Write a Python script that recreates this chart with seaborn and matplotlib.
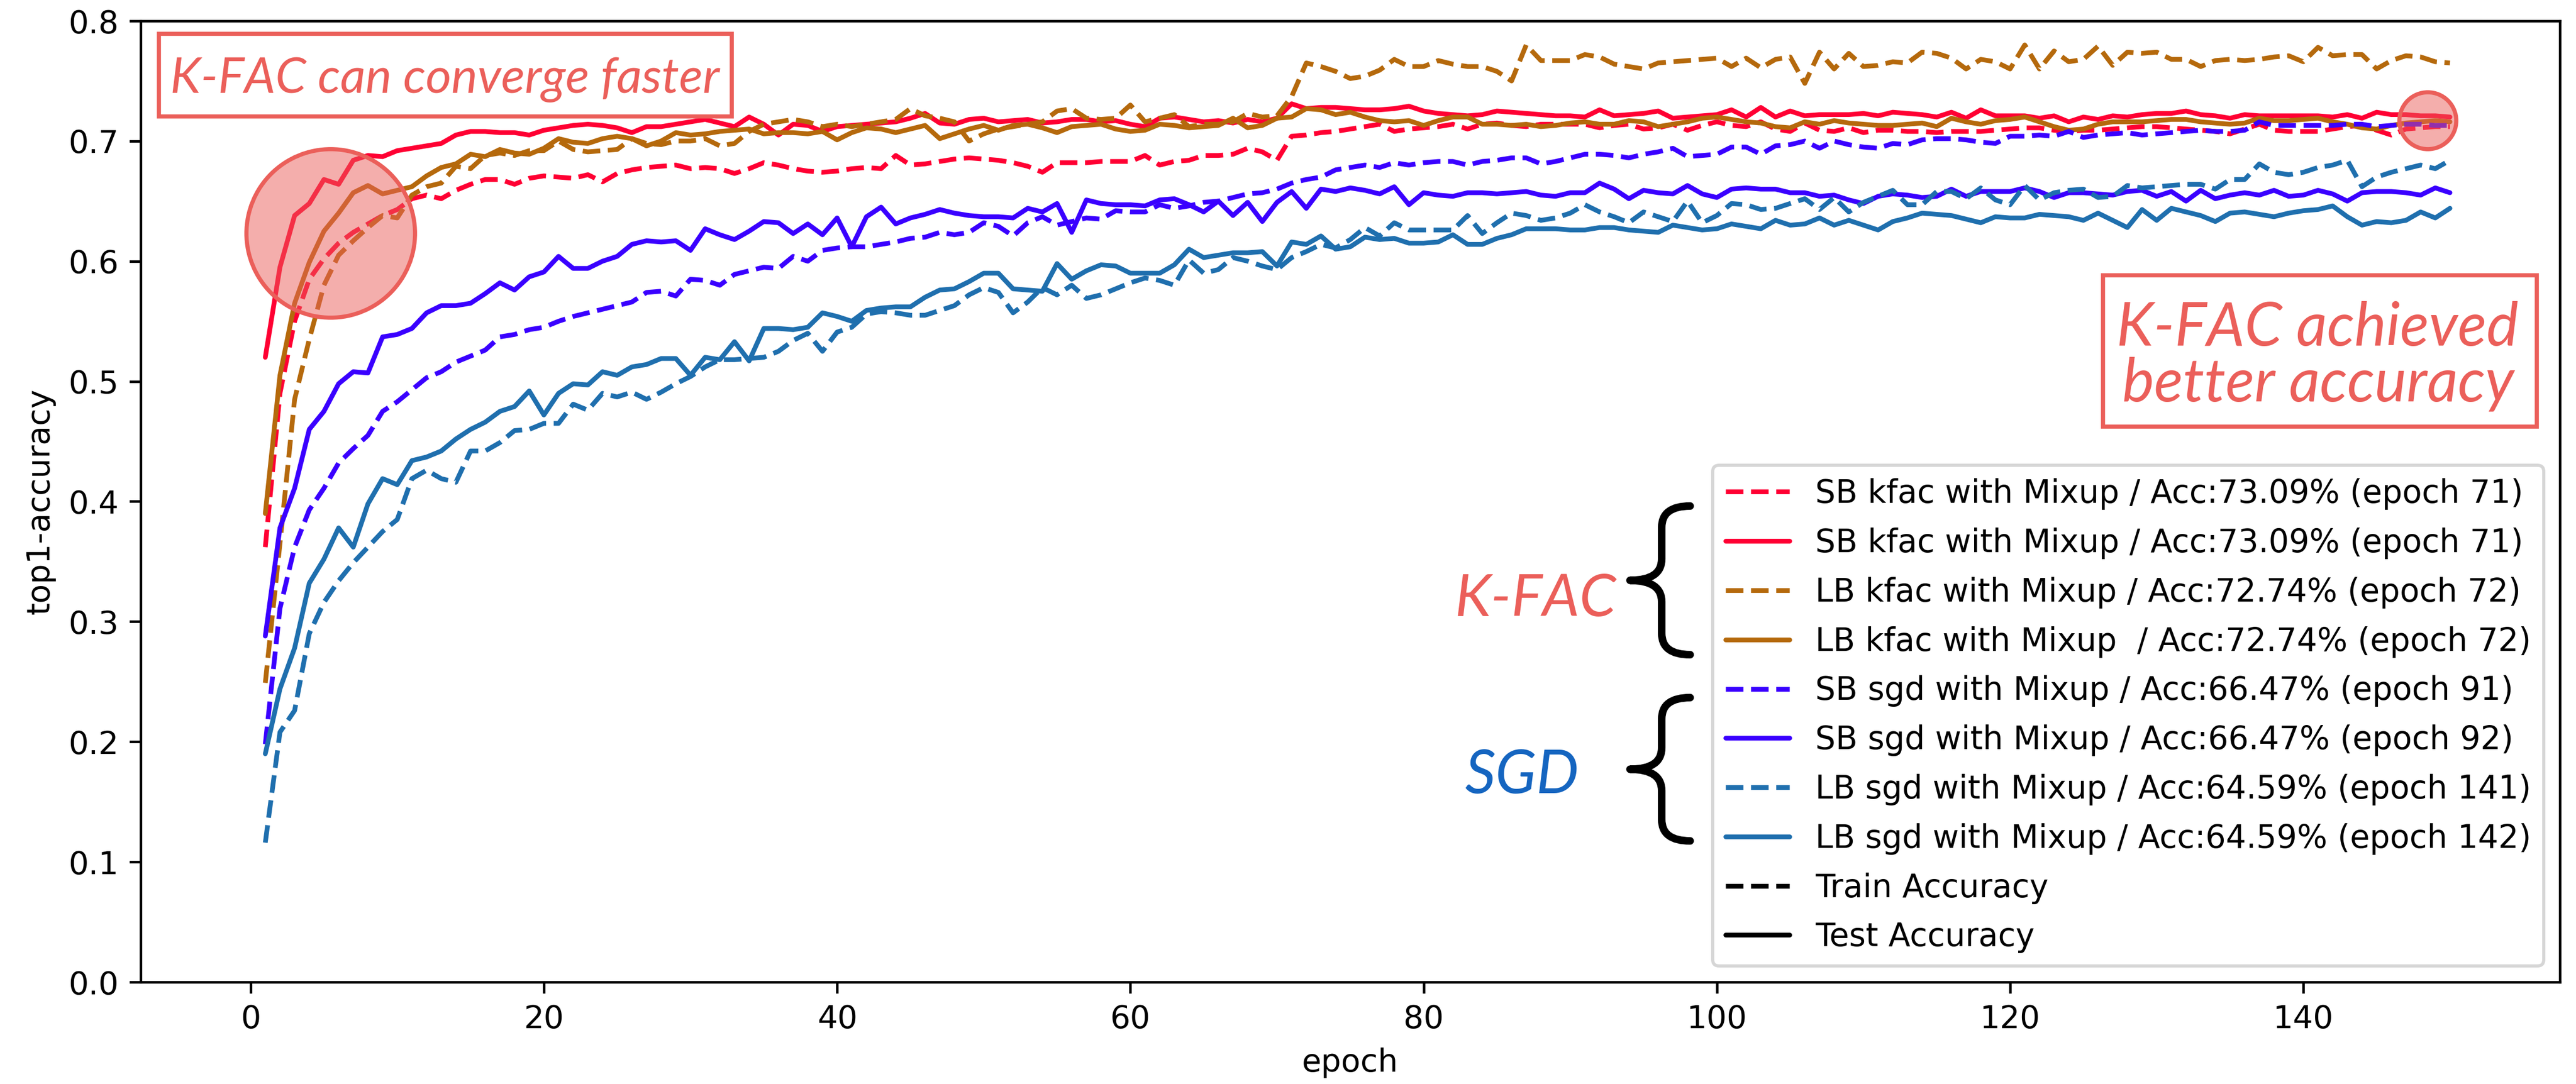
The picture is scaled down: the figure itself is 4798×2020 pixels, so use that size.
import numpy as np
import matplotlib
matplotlib.use("Agg")
import matplotlib.pyplot as plt
import seaborn as sns
from matplotlib.lines import Line2D
from matplotlib.patches import Rectangle, Ellipse, PathPatch
from matplotlib.path import Path
from matplotlib.ticker import FormatStrFormatter

# ---------------- data (top1 accuracy per epoch, epochs 1..150) ----------------
sb_kfac_train = [
    0.362, 0.490, 0.550, 0.585, 0.602, 0.615, 0.624, 0.631, 0.638, 0.643,
    0.652, 0.655, 0.652, 0.659, 0.664, 0.668, 0.668, 0.664, 0.669, 0.671,
    0.670, 0.669, 0.672, 0.666, 0.673, 0.676, 0.678, 0.679, 0.680, 0.677,
    0.678, 0.677, 0.673, 0.677, 0.682, 0.680, 0.677, 0.675, 0.674, 0.675,
    0.677, 0.678, 0.677, 0.688, 0.680, 0.681, 0.683, 0.685, 0.686, 0.685,
    0.684, 0.682, 0.679, 0.674, 0.682, 0.682, 0.682, 0.683, 0.683, 0.683,
    0.688, 0.680, 0.683, 0.684, 0.688, 0.688, 0.689, 0.694, 0.691, 0.684,
    0.704, 0.705, 0.707, 0.708, 0.710, 0.712, 0.714, 0.708, 0.710, 0.711,
    0.712, 0.714, 0.710, 0.714, 0.715, 0.713, 0.712, 0.714, 0.714, 0.714,
    0.714, 0.711, 0.713, 0.714, 0.710, 0.711, 0.714, 0.709, 0.713, 0.716,
    0.713, 0.712, 0.716, 0.710, 0.708, 0.715, 0.709, 0.708, 0.711, 0.707,
    0.709, 0.709, 0.708, 0.708, 0.707, 0.708, 0.708, 0.708, 0.709, 0.710,
    0.711, 0.711, 0.709, 0.708, 0.709, 0.709, 0.710, 0.711, 0.712, 0.712,
    0.711, 0.710, 0.709, 0.708, 0.706, 0.710, 0.714, 0.709, 0.708, 0.708,
    0.708, 0.710, 0.712, 0.713, 0.709, 0.705, 0.710, 0.711, 0.712, 0.712,
]
sb_kfac_test = [
    0.520, 0.595, 0.638, 0.648, 0.668, 0.664, 0.684, 0.688, 0.687, 0.692,
    0.694, 0.696, 0.698, 0.705, 0.708, 0.708, 0.707, 0.707, 0.705, 0.709,
    0.711, 0.713, 0.714, 0.713, 0.711, 0.707, 0.712, 0.712, 0.714, 0.716,
    0.718, 0.715, 0.712, 0.720, 0.714, 0.705, 0.714, 0.713, 0.708, 0.712,
    0.713, 0.714, 0.715, 0.716, 0.719, 0.723, 0.715, 0.714, 0.718, 0.719,
    0.716, 0.717, 0.718, 0.715, 0.716, 0.718, 0.718, 0.716, 0.717, 0.714,
    0.712, 0.719, 0.720, 0.718, 0.716, 0.717, 0.715, 0.718, 0.716, 0.719,
    0.731, 0.727, 0.728, 0.728, 0.727, 0.726, 0.726, 0.727, 0.729, 0.725,
    0.723, 0.722, 0.721, 0.722, 0.725, 0.724, 0.723, 0.722, 0.721, 0.721,
    0.720, 0.726, 0.721, 0.722, 0.723, 0.725, 0.719, 0.720, 0.721, 0.722,
    0.726, 0.720, 0.728, 0.720, 0.725, 0.721, 0.722, 0.722, 0.722, 0.723,
    0.721, 0.724, 0.723, 0.722, 0.720, 0.724, 0.719, 0.726, 0.721, 0.721,
    0.721, 0.719, 0.721, 0.716, 0.720, 0.718, 0.721, 0.720, 0.722, 0.723,
    0.723, 0.725, 0.722, 0.721, 0.719, 0.722, 0.721, 0.721, 0.721, 0.721,
    0.721, 0.720, 0.722, 0.719, 0.724, 0.722, 0.722, 0.721, 0.721, 0.720,
]
lb_kfac_train = [
    0.249, 0.365, 0.485, 0.535, 0.580, 0.605, 0.617, 0.628, 0.638, 0.636,
    0.655, 0.662, 0.665, 0.679, 0.677, 0.688, 0.690, 0.688, 0.692, 0.692,
    0.700, 0.693, 0.691, 0.692, 0.693, 0.702, 0.698, 0.697, 0.700, 0.700,
    0.702, 0.696, 0.698, 0.708, 0.714, 0.716, 0.718, 0.716, 0.712, 0.714,
    0.712, 0.714, 0.716, 0.718, 0.727, 0.721, 0.719, 0.716, 0.700, 0.706,
    0.710, 0.712, 0.714, 0.716, 0.725, 0.727, 0.719, 0.718, 0.719, 0.730,
    0.716, 0.719, 0.722, 0.712, 0.714, 0.714, 0.716, 0.723, 0.720, 0.721,
    0.737, 0.765, 0.762, 0.758, 0.752, 0.754, 0.759, 0.768, 0.762, 0.762,
    0.767, 0.764, 0.762, 0.762, 0.758, 0.750, 0.780, 0.767, 0.767, 0.767,
    0.772, 0.770, 0.764, 0.762, 0.760, 0.765, 0.766, 0.767, 0.768, 0.769,
    0.762, 0.769, 0.761, 0.768, 0.770, 0.748, 0.774, 0.760, 0.773, 0.762,
    0.763, 0.766, 0.765, 0.774, 0.773, 0.769, 0.760, 0.768, 0.766, 0.760,
    0.780, 0.760, 0.775, 0.766, 0.768, 0.779, 0.763, 0.774, 0.773, 0.774,
    0.768, 0.768, 0.762, 0.767, 0.768, 0.767, 0.768, 0.770, 0.771, 0.766,
    0.778, 0.771, 0.772, 0.772, 0.760, 0.767, 0.771, 0.770, 0.766, 0.765,
]
lb_kfac_test = [
    0.390, 0.505, 0.565, 0.599, 0.625, 0.640, 0.657, 0.663, 0.656, 0.659,
    0.662, 0.671, 0.678, 0.681, 0.689, 0.687, 0.693, 0.690, 0.689, 0.694,
    0.702, 0.699, 0.698, 0.702, 0.704, 0.702, 0.696, 0.700, 0.707, 0.705,
    0.706, 0.708, 0.709, 0.710, 0.706, 0.707, 0.707, 0.706, 0.708, 0.701,
    0.707, 0.711, 0.710, 0.707, 0.710, 0.713, 0.702, 0.706, 0.710, 0.713,
    0.709, 0.713, 0.714, 0.711, 0.707, 0.712, 0.713, 0.714, 0.710, 0.708,
    0.709, 0.714, 0.713, 0.711, 0.712, 0.713, 0.719, 0.711, 0.713, 0.719,
    0.720, 0.727, 0.726, 0.722, 0.724, 0.720, 0.717, 0.716, 0.717, 0.713,
    0.717, 0.720, 0.720, 0.714, 0.714, 0.713, 0.714, 0.712, 0.713, 0.715,
    0.716, 0.714, 0.714, 0.717, 0.716, 0.712, 0.714, 0.716, 0.719, 0.720,
    0.718, 0.716, 0.715, 0.712, 0.711, 0.716, 0.714, 0.717, 0.715, 0.714,
    0.713, 0.713, 0.714, 0.715, 0.712, 0.719, 0.716, 0.714, 0.717, 0.718,
    0.720, 0.716, 0.712, 0.709, 0.710, 0.714, 0.716, 0.716, 0.716, 0.717,
    0.718, 0.718, 0.716, 0.715, 0.714, 0.715, 0.719, 0.717, 0.717, 0.718,
    0.719, 0.716, 0.714, 0.711, 0.710, 0.713, 0.715, 0.716, 0.717, 0.716,
]
sb_sgd_train = [
    0.198, 0.311, 0.362, 0.393, 0.411, 0.432, 0.444, 0.455, 0.475, 0.483,
    0.493, 0.503, 0.508, 0.516, 0.521, 0.526, 0.537, 0.539, 0.543, 0.545,
    0.550, 0.554, 0.557, 0.560, 0.563, 0.566, 0.574, 0.575, 0.571, 0.585,
    0.584, 0.580, 0.589, 0.592, 0.595, 0.594, 0.604, 0.600, 0.609, 0.611,
    0.612, 0.612, 0.614, 0.616, 0.619, 0.620, 0.624, 0.622, 0.624, 0.632,
    0.629, 0.621, 0.632, 0.637, 0.630, 0.633, 0.636, 0.635, 0.642, 0.641,
    0.641, 0.647, 0.644, 0.646, 0.649, 0.650, 0.653, 0.656, 0.657, 0.660,
    0.665, 0.668, 0.670, 0.676, 0.678, 0.680, 0.678, 0.682, 0.680, 0.682,
    0.683, 0.683, 0.680, 0.683, 0.684, 0.686, 0.686, 0.681, 0.683, 0.686,
    0.689, 0.689, 0.688, 0.686, 0.689, 0.691, 0.694, 0.687, 0.688, 0.689,
    0.695, 0.695, 0.689, 0.696, 0.697, 0.700, 0.694, 0.700, 0.697, 0.695,
    0.694, 0.698, 0.697, 0.701, 0.702, 0.702, 0.701, 0.699, 0.698, 0.704,
    0.704, 0.705, 0.704, 0.708, 0.703, 0.705, 0.706, 0.707, 0.705, 0.706,
    0.707, 0.708, 0.709, 0.708, 0.708, 0.709, 0.716, 0.713, 0.713, 0.713,
    0.713, 0.713, 0.714, 0.714, 0.712, 0.713, 0.714, 0.714, 0.713, 0.713,
]
sb_sgd_test = [
    0.288, 0.378, 0.411, 0.460, 0.475, 0.498, 0.508, 0.507, 0.537, 0.539,
    0.544, 0.557, 0.563, 0.563, 0.565, 0.573, 0.582, 0.576, 0.587, 0.591,
    0.604, 0.594, 0.594, 0.600, 0.604, 0.614, 0.617, 0.616, 0.617, 0.609,
    0.627, 0.622, 0.618, 0.625, 0.633, 0.632, 0.623, 0.631, 0.622, 0.636,
    0.612, 0.637, 0.645, 0.631, 0.636, 0.639, 0.643, 0.640, 0.638, 0.637,
    0.637, 0.636, 0.644, 0.641, 0.648, 0.624, 0.651, 0.648, 0.647, 0.647,
    0.646, 0.651, 0.652, 0.647, 0.641, 0.650, 0.638, 0.649, 0.633, 0.649,
    0.658, 0.644, 0.660, 0.658, 0.661, 0.659, 0.656, 0.662, 0.647, 0.657,
    0.655, 0.654, 0.657, 0.657, 0.656, 0.657, 0.658, 0.655, 0.654, 0.657,
    0.657, 0.665, 0.660, 0.652, 0.659, 0.657, 0.656, 0.663, 0.656, 0.653,
    0.660, 0.661, 0.660, 0.660, 0.657, 0.657, 0.654, 0.655, 0.651, 0.648,
    0.654, 0.656, 0.655, 0.653, 0.654, 0.660, 0.654, 0.658, 0.658, 0.658,
    0.661, 0.658, 0.653, 0.657, 0.657, 0.656, 0.655, 0.658, 0.659, 0.654,
    0.658, 0.650, 0.659, 0.652, 0.655, 0.657, 0.655, 0.659, 0.654, 0.655,
    0.659, 0.656, 0.650, 0.657, 0.658, 0.658, 0.657, 0.655, 0.661, 0.657,
]
lb_sgd_train = [
    0.116, 0.208, 0.226, 0.290, 0.316, 0.334, 0.349, 0.362, 0.375, 0.385,
    0.419, 0.426, 0.419, 0.416, 0.442, 0.442, 0.449, 0.459, 0.460, 0.465,
    0.465, 0.481, 0.476, 0.490, 0.487, 0.491, 0.485, 0.491, 0.498, 0.504,
    0.512, 0.518, 0.518, 0.519, 0.520, 0.525, 0.534, 0.540, 0.525, 0.541,
    0.545, 0.556, 0.558, 0.557, 0.555, 0.555, 0.559, 0.563, 0.572, 0.578,
    0.574, 0.557, 0.566, 0.578, 0.572, 0.580, 0.569, 0.572, 0.577, 0.582,
    0.586, 0.584, 0.580, 0.601, 0.590, 0.593, 0.603, 0.600, 0.596, 0.593,
    0.603, 0.608, 0.614, 0.611, 0.618, 0.628, 0.621, 0.632, 0.626, 0.626,
    0.626, 0.626, 0.638, 0.623, 0.632, 0.640, 0.638, 0.634, 0.636, 0.640,
    0.647, 0.641, 0.637, 0.632, 0.641, 0.637, 0.633, 0.650, 0.632, 0.638,
    0.648, 0.647, 0.643, 0.644, 0.648, 0.652, 0.643, 0.653, 0.641, 0.649,
    0.654, 0.659, 0.647, 0.647, 0.658, 0.658, 0.652, 0.661, 0.651, 0.647,
    0.663, 0.651, 0.657, 0.659, 0.660, 0.653, 0.654, 0.663, 0.661, 0.662,
    0.663, 0.664, 0.664, 0.660, 0.668, 0.668, 0.681, 0.674, 0.672, 0.674,
    0.678, 0.680, 0.684, 0.662, 0.670, 0.674, 0.677, 0.680, 0.677, 0.684,
]
lb_sgd_test = [
    0.190, 0.244, 0.278, 0.332, 0.352, 0.378, 0.362, 0.398, 0.419, 0.414,
    0.434, 0.437, 0.442, 0.452, 0.460, 0.466, 0.475, 0.479, 0.492, 0.472,
    0.490, 0.498, 0.497, 0.508, 0.505, 0.512, 0.514, 0.519, 0.519, 0.505,
    0.520, 0.518, 0.533, 0.517, 0.544, 0.544, 0.543, 0.545, 0.557, 0.554,
    0.550, 0.559, 0.561, 0.562, 0.562, 0.570, 0.576, 0.577, 0.583, 0.590,
    0.590, 0.577, 0.576, 0.575, 0.598, 0.585, 0.592, 0.597, 0.596, 0.590,
    0.590, 0.590, 0.597, 0.610, 0.603, 0.605, 0.607, 0.607, 0.608, 0.596,
    0.616, 0.614, 0.621, 0.610, 0.612, 0.620, 0.618, 0.619, 0.615, 0.615,
    0.616, 0.622, 0.614, 0.614, 0.619, 0.622, 0.627, 0.627, 0.627, 0.626,
    0.626, 0.628, 0.628, 0.626, 0.625, 0.624, 0.630, 0.628, 0.626, 0.627,
    0.631, 0.629, 0.627, 0.634, 0.630, 0.631, 0.636, 0.630, 0.634, 0.630,
    0.626, 0.633, 0.636, 0.640, 0.639, 0.638, 0.635, 0.632, 0.637, 0.636,
    0.636, 0.639, 0.638, 0.637, 0.634, 0.640, 0.634, 0.628, 0.643, 0.634,
    0.644, 0.641, 0.638, 0.633, 0.640, 0.641, 0.639, 0.637, 0.640, 0.642,
    0.643, 0.646, 0.637, 0.630, 0.633, 0.632, 0.634, 0.641, 0.636, 0.644,
]

legend_labels = [
    "SB kfac with Mixup / Acc:73.09% (epoch 71)",
    "SB kfac with Mixup / Acc:73.09% (epoch 71)",
    "LB kfac with Mixup / Acc:72.74% (epoch 72)",
    "LB kfac with Mixup  / Acc:72.74% (epoch 72)",
    "SB sgd with Mixup / Acc:66.47% (epoch 91)",
    "SB sgd with Mixup / Acc:66.47% (epoch 92)",
    "LB sgd with Mixup / Acc:64.59% (epoch 141)",
    "LB sgd with Mixup / Acc:64.59% (epoch 142)",
]
x_ticks = [0, 20, 40, 60, 80, 100, 120, 140]
y_ticks = [0.0, 0.1, 0.2, 0.3, 0.4, 0.5, 0.6, 0.7, 0.8]

# ---------------- style ----------------
C_RED = "#ff0033"
C_BROWN = "#b5690c"
C_VIOLET = "#3a00ff"
C_TEAL = "#1f6fae"
ANN_RED = "#eb5f5a"
ANN_BLUE = "#1565c0"

W, H, DPI = 4798, 2020, 425
sns.set_style("ticks", rc={
    "axes.edgecolor": "black", "axes.labelcolor": "black", "text.color": "black",
    "xtick.color": "black", "ytick.color": "black",
    "xtick.major.size": 4, "ytick.major.size": 4,
    "xtick.major.width": 0.8, "ytick.major.width": 0.8,
    "axes.linewidth": 0.8,
})
plt.rcParams["font.family"] = ["DejaVu Sans"]
plt.rcParams["font.size"] = 10

fig = plt.figure(figsize=(W / DPI + 1e-4, H / DPI + 1e-4), dpi=DPI)
ax = fig.add_axes([262 / W, 1 - 1830 / H, (4768 - 262) / W, (1830 - 39) / H])

series = [
    (sb_kfac_train, C_RED, "--"),
    (sb_kfac_test, C_RED, "-"),
    (lb_kfac_train, C_BROWN, "--"),
    (lb_kfac_test, C_BROWN, "-"),
    (sb_sgd_train, C_VIOLET, "--"),
    (sb_sgd_test, C_VIOLET, "-"),
    (lb_sgd_train, C_TEAL, "--"),
    (lb_sgd_test, C_TEAL, "-"),
]
handles = []
for vals, color, ls in series:
    ep = np.arange(1, len(vals) + 1)
    sns.lineplot(x=ep, y=vals, color=color, linestyle=ls, linewidth=1.5,
                 errorbar=None, legend=False, ax=ax)
    handles.append(ax.get_lines()[-1])

handles += [Line2D([], [], color="black", linestyle="--", linewidth=1.5),
            Line2D([], [], color="black", linestyle="-", linewidth=1.5)]
labels = legend_labels + ["Train Accuracy", "Test Accuracy"]
ax.legend(handles, labels, loc="lower right", fontsize=10.1, frameon=True,
          fancybox=True, framealpha=0.8, edgecolor="0.8", labelspacing=0.55)

ax.set_xlim(-7.5, 157.5)
ax.set_ylim(0.0, 0.8)
ax.set_xticks(x_ticks)
ax.set_yticks(y_ticks)
ax.yaxis.set_major_formatter(FormatStrFormatter("%.1f"))
ax.set_xlabel("epoch")
ax.set_ylabel("top1-accuracy")
for s in ax.spines.values():
    s.set_visible(True)

# ---------------- annotations (figure pixel coordinates) ----------------
def fx(x):
    return x / W

def fy(y):
    return 1 - y / H

ann_font = dict(family=["Lato", "DejaVu Sans"], style="italic", color=ANN_RED)

# big highlight circle
fig.add_artist(Ellipse((fx(616), fy(435)), 2 * 157 / W, 2 * 157 / H,
                       transform=fig.transFigure, facecolor=ANN_RED, alpha=0.5,
                       edgecolor="none", zorder=5))
fig.add_artist(Ellipse((fx(616), fy(435)), 2 * 157 / W, 2 * 157 / H,
                       transform=fig.transFigure, facecolor="none",
                       edgecolor=ANN_RED, lw=1.3, zorder=6))
# small highlight circle
fig.add_artist(Ellipse((fx(4522), fy(225)), 2 * 53 / W, 2 * 53 / H,
                       transform=fig.transFigure, facecolor=ANN_RED, alpha=0.5,
                       edgecolor="none", zorder=5))
fig.add_artist(Ellipse((fx(4522), fy(225)), 2 * 53 / W, 2 * 53 / H,
                       transform=fig.transFigure, facecolor="none",
                       edgecolor=ANN_RED, lw=1.3, zorder=6))

# box 1
fig.add_artist(Rectangle((fx(296), fy(217)), (1363 - 296) / W, (217 - 63) / H,
                         transform=fig.transFigure, facecolor="white",
                         edgecolor=ANN_RED, lw=1.3, zorder=6))
fig.text(fx(829), fy(173), "K-FAC can converge faster", fontsize=15.6,
         ha="center", va="baseline", zorder=7, **ann_font)

# box 2
fig.add_artist(Rectangle((fx(3917), fy(795)), (4725 - 3917) / W, (795 - 513) / H,
                         transform=fig.transFigure, facecolor="white",
                         edgecolor=ANN_RED, lw=1.3, zorder=6))
fig.text(fx(4316), fy(644), "K-FAC achieved", fontsize=19,
         ha="center", va="baseline", zorder=7, **ann_font)
fig.text(fx(4318), fy(748), "better accuracy", fontsize=19,
         ha="center", va="baseline", zorder=7, **ann_font)

# group labels
fig.text(fx(2860), fy(1148), "K-FAC", fontsize=18.5, ha="center", va="baseline",
         zorder=7, **ann_font)
fig.text(fx(2835), fy(1478), "SGD", fontsize=19, ha="center", va="baseline",
         zorder=7, family=["Lato", "DejaVu Sans"], style="italic", color=ANN_BLUE)

# curly braces
def brace(y0, y1, xl=3036, xm=3095, xr=3148, r=40):
    ym = (y0 + y1) / 2
    pts = [(xr, y0), (xm, y0), (xm, y0 + r),
           (xm, ym - r),
           (xm, ym), (xl, ym),
           (xm, ym), (xm, ym + r),
           (xm, y1 - r),
           (xm, y1), (xr, y1)]
    codes = [Path.MOVETO, Path.CURVE3, Path.CURVE3,
             Path.LINETO,
             Path.CURVE3, Path.CURVE3,
             Path.CURVE3, Path.CURVE3,
             Path.LINETO,
             Path.CURVE3, Path.CURVE3]
    verts = [(fx(x), fy(y)) for x, y in pts]
    fig.add_artist(PathPatch(Path(verts, codes), transform=fig.transFigure,
                             facecolor="none", edgecolor="black", lw=2.4,
                             capstyle="round", joinstyle="round", zorder=7))

brace(943, 1220)
brace(1300, 1567)

fig.savefig("out.png", dpi=DPI)
